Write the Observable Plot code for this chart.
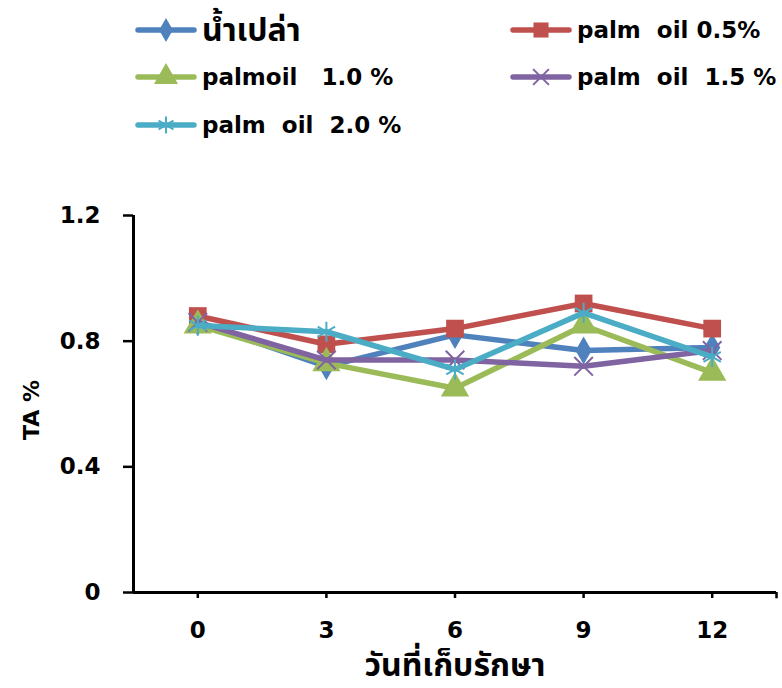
<!DOCTYPE html>
<html>
<head>
<meta charset="utf-8">
<script src="https://cdn.jsdelivr.net/npm/d3@7"></script>
<script src="https://cdn.jsdelivr.net/npm/@observablehq/plot@0.6"></script>
<style>
  html, body { margin: 0; padding: 0; background: #fff; }
  #wrap { position: relative; width: 782px; height: 688px; overflow: hidden; }
  .leg { position: absolute; display: flex; align-items: center; font-family: "DejaVu Sans", "Noto Sans Thai", "Noto Sans", sans-serif; font-weight: bold; font-size: 23px; color: #000; white-space: pre; line-height: 1; }
  .leg svg { margin-right: 5px; }
  .thai { font-size: 32px; }
</style>
</head>
<body>
<div id="wrap"></div>
<script>
const days = [0, 3, 6, 9, 12];
const seriesNames = ["น้ำเปล่า", "palm  oil 0.5%", "palmoil   1.0 %", "palm  oil  1.5 %", "palm  oil  2.0 %"];
const water  = [0.86, 0.72, 0.82, 0.77, 0.78];
const palm05 = [0.88, 0.79, 0.84, 0.92, 0.84];
const palm10 = [0.85, 0.73, 0.65, 0.85, 0.70];
const palm15 = [0.86, 0.74, 0.74, 0.72, 0.77];
const palm20 = [0.85, 0.83, 0.71, 0.89, 0.75];
const yTicks = [0, 0.4, 0.8, 1.2];
const xTitle = "วันที่เก็บรักษา";
const yTitle = "TA %";

const colors = ["#4F81BD", "#C0504D", "#9BBB59", "#8064A2", "#4BACC6"];
const symbols = ["diamond", "square", "triangle", "times", "asterisk"];
const filled = [true, true, true, false, false];
const radii = [8.5, 10, 10.5, 8.5, 9.5];
const values = [water, palm05, palm10, palm15, palm20];

const rows = [];
values.forEach((vals, si) => vals.forEach((v, i) => rows.push({series: seriesNames[si], day: days[i], value: v})));

const font = '"DejaVu Sans", "Noto Sans Thai", "Noto Sans", sans-serif';

const marks = [];
seriesNames.forEach((name, si) => {
  const sub = rows.filter(d => d.series === name);
  marks.push(Plot.line(sub, {x: "day", y: "value", stroke: colors[si], strokeWidth: 5.5}));
  marks.push(Plot.dot(sub, filled[si]
    ? {x: "day", y: "value", symbol: () => symbols[si], fill: colors[si], stroke: "none", r: radii[si]}
    : {x: "day", y: "value", symbol: () => symbols[si], stroke: colors[si], strokeWidth: 2, r: radii[si]}));
});

const chart = Plot.plot({
  width: 782,
  height: 688,
  marginTop: 215,
  marginBottom: 96,
  marginLeft: 133,
  marginRight: 6,
  style: {fontFamily: font, fontWeight: "bold", fontSize: "23px", color: "#000", background: "#fff"},
  x: {domain: [-1.5, 13.5]},
  y: {domain: [0, 1.2]},
  symbol: {type: "identity"},
  marks: [
    ...marks,
    Plot.axisX({ticks: days, tickSize: 6, tickPadding: 23, tickFormat: d => String(d), label: null, fontSize: 23, fontWeight: "bold", strokeWidth: 2.5}),
    Plot.axisY({ticks: yTicks, tickSize: 10, tickPadding: 23, tickFormat: d => d === 0 ? "0" : d.toFixed(1), label: null, fontSize: 23, fontWeight: "bold", strokeWidth: 2.5}),
    Plot.ruleY([0], {stroke: "#000", strokeWidth: 3}),
    Plot.ruleX([-1.5], {y1: 0, y2: 1.2, stroke: "#000", strokeWidth: 3}),
    Plot.ruleX([13.5], {y1: 0, y2: -0.02, stroke: "#000", strokeWidth: 2.5})
  ]
});

const wrap = document.getElementById("wrap");
wrap.appendChild(chart);

const svg = d3.select(chart);
svg.append("text")
  .attr("transform", "translate(31,410) rotate(-90)")
  .attr("text-anchor", "middle")
  .attr("dominant-baseline", "central")
  .style("font-family", font).style("font-weight", "bold").style("font-size", "22px")
  .text(yTitle);
svg.append("text")
  .attr("x", 455).attr("y", 665)
  .attr("text-anchor", "middle")
  .attr("dominant-baseline", "central")
  .style("font-family", font).style("font-weight", "bold").style("font-size", "32px")
  .text(xTitle);

// Legend
const legPos = [[135, 30], [510, 30], [135, 77], [510, 77], [135, 125]];
const symMap = {diamond: d3.symbolDiamond, square: d3.symbolSquare, triangle: d3.symbolTriangle, times: d3.symbolTimes, asterisk: d3.symbolAsterisk};
seriesNames.forEach((name, si) => {
  const div = document.createElement("div");
  div.className = "leg";
  div.style.left = legPos[si][0] + "px";
  div.style.top = (legPos[si][1] - 15) + "px";
  div.style.height = "30px";
  const s = d3.create("svg").attr("width", 62).attr("height", 30);
  s.append("line").attr("x1", 3).attr("x2", 59).attr("y1", 15).attr("y2", 15)
    .attr("stroke", colors[si]).attr("stroke-width", 5.5).attr("stroke-linecap", "round");
  const r = radii[si] * 0.85;
  const p = s.append("path")
    .attr("transform", "translate(31,15)")
    .attr("d", d3.symbol(symMap[symbols[si]], Math.PI * r * r)());
  if (filled[si]) p.attr("fill", colors[si]);
  else p.attr("fill", "none").attr("stroke", colors[si]).attr("stroke-width", 2);
  div.appendChild(s.node());
  const span = document.createElement("span");
  span.textContent = name;
  if (/[\u0E00-\u0E7F]/.test(name)) span.className = "thai";
  div.appendChild(span);
  wrap.appendChild(div);
});
</script>
</body>
</html>
